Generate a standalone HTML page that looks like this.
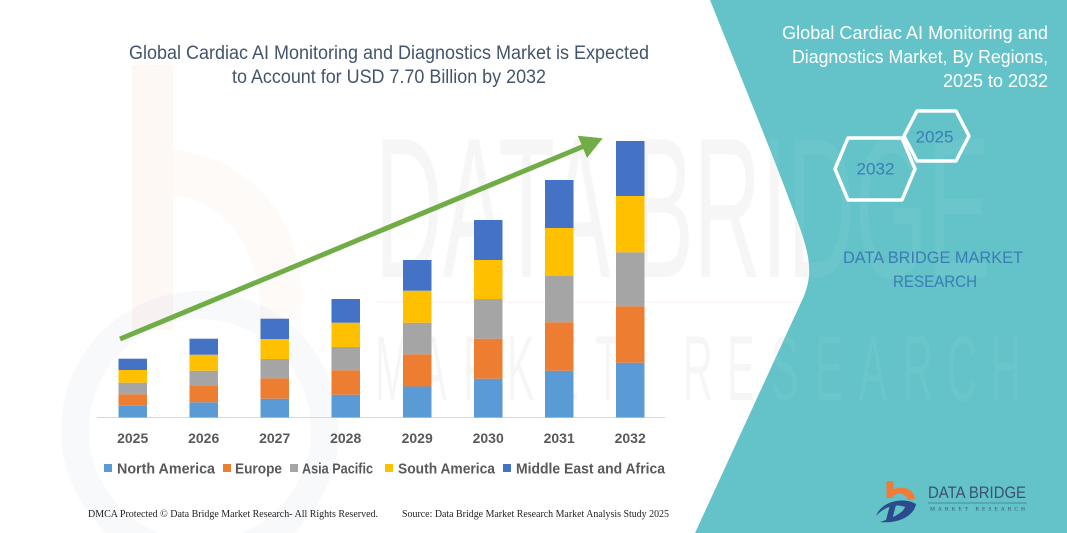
<!DOCTYPE html>
<html>
<head>
<meta charset="utf-8">
<style>
  html,body{margin:0;padding:0;background:#fff;}
  svg{display:block;}
  text{font-family:"Liberation Sans",sans-serif;}
</style>
</head>
<body>
<svg width="1067" height="533" viewBox="0 0 1067 533" xmlns="http://www.w3.org/2000/svg">
  <defs>
    <clipPath id="teal">
      <path d="M710,0 C740,75 775,160 795,215 C812,258 812,275 804,296 L695,533 L1067,533 L1067,0 Z"/>
    </clipPath>
  </defs>
  <rect x="0" y="0" width="1067" height="533" fill="#ffffff"/>

  <!-- faint watermark logo on left -->
  <rect x="132" y="65" width="41" height="265" fill="#f07c3a" opacity="0.05"/>
  <path d="M173,150 C260,160 310,230 300,320 L260,320 C262,250 225,200 173,195 Z" fill="#f07c3a" opacity="0.04"/>
  <circle cx="200" cy="430" r="125" fill="none" stroke="#2b4c8c" stroke-width="28" opacity="0.03"/>

  <!-- faint watermark text (white area) -->
  <g fill="#000" opacity="0.03">
    <text x="375" y="277" font-size="200" textLength="615" lengthAdjust="spacingAndGlyphs">DATA BRIDGE</text>
    <text transform="scale(0.45,1)" y="400" font-size="92" x="833.3 931.1 1028.9 1126.7 1224.4 1322.2 1420 1517.8 1615.6 1713.3 1811.1 1908.9 2006.7 2104.4 2202.2">MARKET RESEARCH</text>
  </g>
  <rect x="375" y="301" width="435" height="2" fill="#f07c3a" opacity="0.06"/>

  <!-- teal panel -->
  <path d="M710,0 C740,75 775,160 795,215 C812,258 812,275 804,296 L695,533 L1067,533 L1067,0 Z" fill="#63c3c8"/>
  <g clip-path="url(#teal)" fill="#ffffff" opacity="0.05">
    <text x="375" y="277" font-size="200" textLength="615" lengthAdjust="spacingAndGlyphs">DATA BRIDGE</text>
    <text transform="scale(0.45,1)" y="400" font-size="92" x="833.3 931.1 1028.9 1126.7 1224.4 1322.2 1420 1517.8 1615.6 1713.3 1811.1 1908.9 2006.7 2104.4 2202.2">MARKET RESEARCH</text>
  </g>

  <!-- main title -->
  <g fill="#44546a" font-size="19">
    <text x="129" y="59" textLength="520" lengthAdjust="spacingAndGlyphs">Global Cardiac AI Monitoring and Diagnostics Market is Expected</text>
    <text x="232" y="83" textLength="314" lengthAdjust="spacingAndGlyphs">to Account for USD 7.70 Billion by 2032</text>
  </g>

  <!-- axis line -->
  <line x1="97" y1="417.5" x2="665" y2="417.5" stroke="#d9d9d9" stroke-width="1"/>

  <!-- bars -->
  <g>
    <rect x="118.5" y="405.7" width="28.5" height="11.8" fill="#5b9bd5"/>
    <rect x="118.5" y="394.3" width="28.5" height="11.4" fill="#ed7d31"/>
    <rect x="118.5" y="382.7" width="28.5" height="11.6" fill="#a5a5a5"/>
    <rect x="118.5" y="370" width="28.5" height="12.7" fill="#ffc000"/>
    <rect x="118.5" y="358.7" width="28.5" height="11.3" fill="#4472c4"/>

    <rect x="189.5" y="402.3" width="28.5" height="15.2" fill="#5b9bd5"/>
    <rect x="189.5" y="386" width="28.5" height="16.3" fill="#ed7d31"/>
    <rect x="189.5" y="370.7" width="28.5" height="15.3" fill="#a5a5a5"/>
    <rect x="189.5" y="354.7" width="28.5" height="16" fill="#ffc000"/>
    <rect x="189.5" y="338.7" width="28.5" height="16" fill="#4472c4"/>

    <rect x="260.5" y="398.7" width="28.5" height="18.8" fill="#5b9bd5"/>
    <rect x="260.5" y="378.3" width="28.5" height="20.4" fill="#ed7d31"/>
    <rect x="260.5" y="359" width="28.5" height="19.3" fill="#a5a5a5"/>
    <rect x="260.5" y="339" width="28.5" height="20" fill="#ffc000"/>
    <rect x="260.5" y="318.7" width="28.5" height="20.3" fill="#4472c4"/>

    <rect x="331.5" y="394.7" width="28.5" height="22.8" fill="#5b9bd5"/>
    <rect x="331.5" y="370.3" width="28.5" height="24.4" fill="#ed7d31"/>
    <rect x="331.5" y="347" width="28.5" height="23.3" fill="#a5a5a5"/>
    <rect x="331.5" y="322.7" width="28.5" height="24.3" fill="#ffc000"/>
    <rect x="331.5" y="299" width="28.5" height="23.7" fill="#4472c4"/>

    <rect x="403" y="386.5" width="28.5" height="31" fill="#5b9bd5"/>
    <rect x="403" y="354.3" width="28.5" height="32.2" fill="#ed7d31"/>
    <rect x="403" y="322.7" width="28.5" height="31.6" fill="#a5a5a5"/>
    <rect x="403" y="290.7" width="28.5" height="32" fill="#ffc000"/>
    <rect x="403" y="260" width="28.5" height="30.7" fill="#4472c4"/>

    <rect x="474" y="378.7" width="28.5" height="38.8" fill="#5b9bd5"/>
    <rect x="474" y="338.7" width="28.5" height="40" fill="#ed7d31"/>
    <rect x="474" y="299" width="28.5" height="39.7" fill="#a5a5a5"/>
    <rect x="474" y="260" width="28.5" height="39" fill="#ffc000"/>
    <rect x="474" y="220" width="28.5" height="40" fill="#4472c4"/>

    <rect x="545" y="370.7" width="28.5" height="46.8" fill="#5b9bd5"/>
    <rect x="545" y="322.3" width="28.5" height="48.4" fill="#ed7d31"/>
    <rect x="545" y="276" width="28.5" height="46.3" fill="#a5a5a5"/>
    <rect x="545" y="228" width="28.5" height="48" fill="#ffc000"/>
    <rect x="545" y="180" width="28.5" height="48" fill="#4472c4"/>

    <rect x="616" y="362.7" width="28.5" height="54.8" fill="#5b9bd5"/>
    <rect x="616" y="306.3" width="28.5" height="56.4" fill="#ed7d31"/>
    <rect x="616" y="252.3" width="28.5" height="54" fill="#a5a5a5"/>
    <rect x="616" y="196" width="28.5" height="56.3" fill="#ffc000"/>
    <rect x="616" y="141" width="28.5" height="55" fill="#4472c4"/>
  </g>

  <!-- arrow -->
  <line x1="120" y1="339" x2="583" y2="146.5" stroke="#70ad47" stroke-width="5"/>
  <polygon points="602.7,138.3 577.8,135.7 587,157.9" fill="#70ad47"/>

  <!-- year labels -->
  <g fill="#595959" font-size="14" font-weight="bold" text-anchor="middle">
    <text x="132.7" y="443">2025</text>
    <text x="203.7" y="443">2026</text>
    <text x="274.7" y="443">2027</text>
    <text x="345.7" y="443">2028</text>
    <text x="417.2" y="443">2029</text>
    <text x="488.2" y="443">2030</text>
    <text x="559.2" y="443">2031</text>
    <text x="630.2" y="443">2032</text>
  </g>

  <!-- legend -->
  <g font-size="15" font-weight="bold" fill="#595959">
    <rect x="104" y="464" width="8" height="8" fill="#5b9bd5"/>
    <text x="117" y="473.5" textLength="98" lengthAdjust="spacingAndGlyphs">North America</text>
    <rect x="223" y="464" width="8" height="8" fill="#ed7d31"/>
    <text x="235" y="473.5" textLength="47" lengthAdjust="spacingAndGlyphs">Europe</text>
    <rect x="290" y="464" width="8" height="8" fill="#a5a5a5"/>
    <text x="302" y="473.5" textLength="71" lengthAdjust="spacingAndGlyphs">Asia Pacific</text>
    <rect x="385" y="464" width="8" height="8" fill="#ffc000"/>
    <text x="398" y="473.5" textLength="97" lengthAdjust="spacingAndGlyphs">South America</text>
    <rect x="503" y="464" width="8" height="8" fill="#4472c4"/>
    <text x="516" y="473.5" textLength="149" lengthAdjust="spacingAndGlyphs">Middle East and Africa</text>
  </g>

  <!-- footer -->
  <g font-size="10.5" fill="#222">
    <text x="88" y="517" textLength="290" lengthAdjust="spacingAndGlyphs" style="font-family:'Liberation Serif',serif">DMCA Protected © Data Bridge Market Research-  All Rights Reserved.</text>
    <text x="402" y="517" textLength="267" lengthAdjust="spacingAndGlyphs" style="font-family:'Liberation Serif',serif">Source: Data Bridge Market Research  Market Analysis Study 2025</text>
  </g>

  <!-- right panel title -->
  <g fill="#ffffff" font-size="18" text-anchor="end">
    <text x="1048" y="39" textLength="266" lengthAdjust="spacingAndGlyphs">Global Cardiac AI Monitoring and</text>
    <text x="1048" y="63" textLength="256" lengthAdjust="spacingAndGlyphs">Diagnostics Market, By Regions,</text>
    <text x="1048" y="87" textLength="105" lengthAdjust="spacingAndGlyphs">2025 to 2032</text>
  </g>

  <!-- hexagons -->
  <g fill="none" stroke="#ffffff" stroke-width="3.5" stroke-linejoin="round">
    <polygon points="904,136 917,111 956,111 969,136 956,161 917,161"/>
    <polygon points="835,169 848,138 902,138 915,169 902,200 848,200"/>
  </g>
  <g fill="#3a7db8" font-size="17" text-anchor="middle">
    <text x="934.5" y="142.5" textLength="38" lengthAdjust="spacingAndGlyphs">2025</text>
    <text x="875.5" y="174.5" textLength="38" lengthAdjust="spacingAndGlyphs">2032</text>
  </g>

  <!-- DATA BRIDGE MARKET RESEARCH -->
  <g fill="#3c7cb5" font-size="17">
    <text x="843" y="263" textLength="180" lengthAdjust="spacingAndGlyphs">DATA BRIDGE MARKET</text>
    <text x="893" y="287" textLength="84" lengthAdjust="spacingAndGlyphs">RESEARCH</text>
  </g>

  <!-- bottom logo -->
  <g>
    <rect x="886.5" y="481" width="7" height="17" fill="#f07c3a"/>
    <path d="M886.5,494 C896,484 914,486 915,499 L908,500 C906,493 897,491 893,497 Z" fill="#f07c3a"/>
    <path d="M876,516 C882,500 905,497 916,504 C914,516 898,524 880,522 C893,518 904,512 905,507 C896,503 884,507 876,516 Z" fill="#2b4c8c"/>
    <path d="M890,505 L896,505 L892,520 L886,520 Z" fill="#2b4c8c"/>
    <text x="928" y="498" font-size="17" fill="#3d5071" textLength="98" lengthAdjust="spacingAndGlyphs">DATA BRIDGE</text>
    <line x1="928" y1="503" x2="1027" y2="503" stroke="#3d5071" stroke-width="0.6"/>
    <text x="930" y="510.5" font-size="5.5" fill="#3d5071" textLength="95" lengthAdjust="spacing" style="font-family:'Liberation Serif',serif">MARKET   RESEARCH</text>
  </g>
</svg>
</body>
</html>
